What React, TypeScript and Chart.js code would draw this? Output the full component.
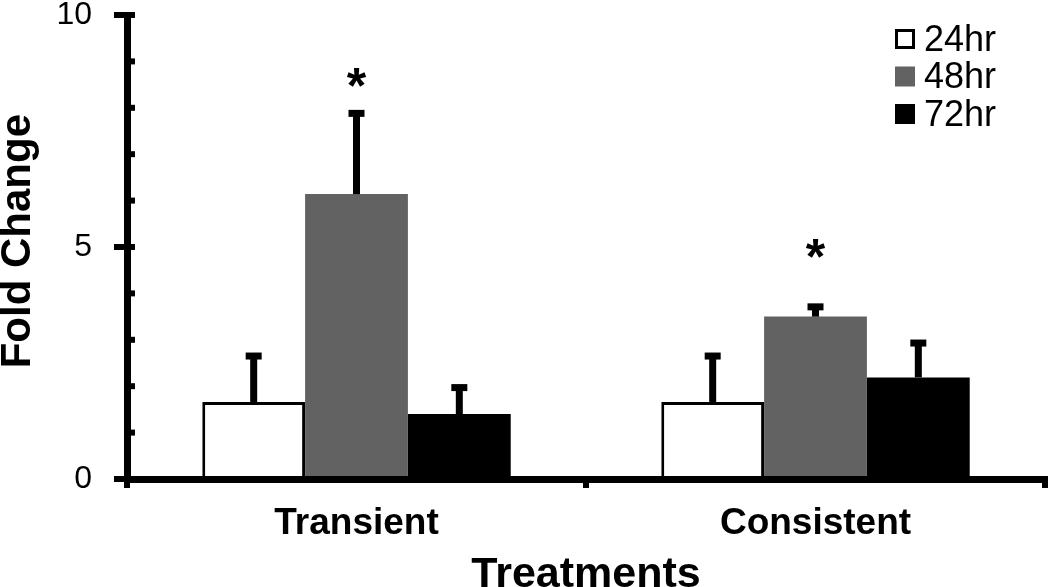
import React, { useEffect, useRef } from "react";
import { Chart, registerables } from "chart.js";

Chart.register(...registerables);

const categories = ["Transient", "Consistent"];
const seriesLabels = ["24hr", "48hr", "72hr"];
const fold24 = [1.66, 1.66];
const fold48 = [6.14, 3.5];
const fold72 = [1.4, 2.19];
const err24 = [0.99, 0.99];
const err48 = [1.74, 0.21];
const err72 = [0.57, 0.74];
const starMarks48 = ["*", "*"];
const starValues48 = [8.72, 5.05];
const yTickMajor = [0, 5, 10];

const FONT = "'Liberation Sans', Arial, sans-serif";
const seriesFill = ["#ffffff", "#626262", "#000000"];

const errorBarPlugin = {
  id: "errorBars",
  afterDatasetsDraw(chart: any) {
    const ctx = chart.ctx;
    const y = chart.scales.y;
    chart.data.datasets.forEach((ds: any, i: number) => {
      const meta = chart.getDatasetMeta(i);
      meta.data.forEach((el: any, j: number) => {
        const err = ds.errors ? ds.errors[j] : 0;
        if (!err) return;
        const top = y.getPixelForValue(ds.data[j] + err);
        ctx.save();
        ctx.fillStyle = "#000";
        ctx.fillRect(el.x - 3.5, top, 7, el.y - top);
        ctx.fillRect(el.x - 8, top - 3.5, 16, 7);
        ctx.restore();
      });
      if (ds.stars) {
        meta.data.forEach((el: any, j: number) => {
          const s = ds.stars[j];
          if (!s) return;
          const size = 50;
          const py = y.getPixelForValue(ds.starValues[j]);
          ctx.save();
          ctx.fillStyle = "#000";
          ctx.font = `bold ${size}px ${FONT}`;
          ctx.textAlign = "center";
          ctx.textBaseline = "alphabetic";
          ctx.fillText(s, el.x, py + 0.58 * size);
          ctx.restore();
        });
      }
    });
  },
};

const innerTicksPlugin = {
  id: "innerTicks",
  afterDraw(chart: any) {
    const ctx = chart.ctx;
    const y = chart.scales.y;
    const left = chart.chartArea.left;
    ctx.save();
    ctx.strokeStyle = "#000";
    ctx.lineWidth = 6;
    y.ticks.forEach((t: any) => {
      const py = y.getPixelForValue(t.value);
      ctx.beginPath();
      ctx.moveTo(left, py);
      ctx.lineTo(left + 8, py);
      ctx.stroke();
    });
    ctx.restore();
  },
};

const legendPlugin = {
  id: "customLegend",
  afterDraw(chart: any) {
    const ctx = chart.ctx;
    const area = chart.chartArea;
    const x0 = area.right - 150;
    const y0 = area.top + 24;
    const rowH = 37.5;
    const box = 20;
    ctx.save();
    chart.data.datasets.forEach((ds: any, i: number) => {
      const cy = y0 + i * rowH;
      ctx.fillStyle = ds.backgroundColor;
      ctx.fillRect(x0, cy - box / 2, box, box);
      if (ds.borderWidth) {
        ctx.strokeStyle = "#000";
        ctx.lineWidth = 3;
        ctx.strokeRect(x0 + 1.5, cy - box / 2 + 1.5, box - 3, box - 3);
      }
      ctx.fillStyle = "#000";
      ctx.font = `36px ${FONT}`;
      ctx.textAlign = "left";
      ctx.textBaseline = "middle";
      ctx.fillText(ds.label, x0 + box + 9, cy + 2);
    });
    ctx.restore();
  },
};

export default function App() {
  const ref = useRef<HTMLCanvasElement | null>(null);
  useEffect(() => {
    if (!ref.current) return;
    const values = [fold24, fold48, fold72];
    const errors = [err24, err48, err72];
    const chart = new Chart(ref.current, {
      type: "bar",
      data: {
        labels: categories,
        datasets: seriesLabels.map((label, i) => ({
          label,
          data: values[i],
          errors: errors[i],
          stars: i === 1 ? starMarks48 : undefined,
          starValues: i === 1 ? starValues48 : undefined,
          backgroundColor: seriesFill[i],
          borderColor: "#000",
          borderWidth: i === 0 ? 3 : 0,
          categoryPercentage: 0.672,
          barPercentage: 1.0,
        })) as any,
      },
      options: {
        responsive: false,
        maintainAspectRatio: false,
        animation: false,
        layout: { padding: { top: 15, right: 5, left: 0, bottom: 0 } },
        plugins: {
          legend: { display: false },
          tooltip: { enabled: false },
        },
        scales: {
          x: {
            grid: {
              display: true,
              drawOnChartArea: false,
              drawTicks: true,
              tickLength: 9,
              lineWidth: 6,
              color: "#000",
              offset: true,
            },
            border: { display: true, width: 7, color: "#000" },
            ticks: {
              color: "#000",
              padding: 14,
              font: { family: FONT, size: 37, weight: "bold" },
            },
            title: {
              display: true,
              text: "Treatments",
              color: "#000",
              padding: 0,
              font: { family: FONT, size: 43, weight: "bold", lineHeight: 0.53 },
            },
            afterFit: (s: any) => {
              s.height = 108;
              s.paddingLeft = 0;
              s.paddingRight = 0;
            },
          },
          y: {
            min: 0,
            max: 10,
            ticks: {
              stepSize: 1,
              autoSkip: false,
              color: "#000",
              padding: 22,
              font: { family: FONT, size: 32 },
              callback: (v: any) => (yTickMajor.includes(Number(v)) ? String(v) : ""),
            },
            grid: {
              display: true,
              drawOnChartArea: false,
              tickLength: 13,
              lineWidth: (c: any) => (c.tick && yTickMajor.includes(c.tick.value) ? 6 : 0),
              color: (c: any) => (c.tick && yTickMajor.includes(c.tick.value) ? "#000" : "rgba(0,0,0,0)"),
            },
            border: { display: true, width: 7, color: "#000" },
            title: {
              display: true,
              text: " Fold Change",
              color: "#000",
              padding: 0,
              font: { family: FONT, size: 42, weight: "bold", lineHeight: 0.9 },
            },
            afterFit: (s: any) => {
              s.width = 127;
              s.paddingTop = 0;
              s.paddingBottom = 0;
            },
          },
        },
      } as any,
      plugins: [errorBarPlugin, innerTicksPlugin, legendPlugin],
    });
    return () => chart.destroy();
  }, []);
  return (
    <div style={{ position: "fixed", left: 0, top: 0, width: 1050, height: 587, background: "#fff" }}>
      <canvas ref={ref} width={1050} height={587} style={{ width: 1050, height: 587, display: "block" }} />
    </div>
  );
}
